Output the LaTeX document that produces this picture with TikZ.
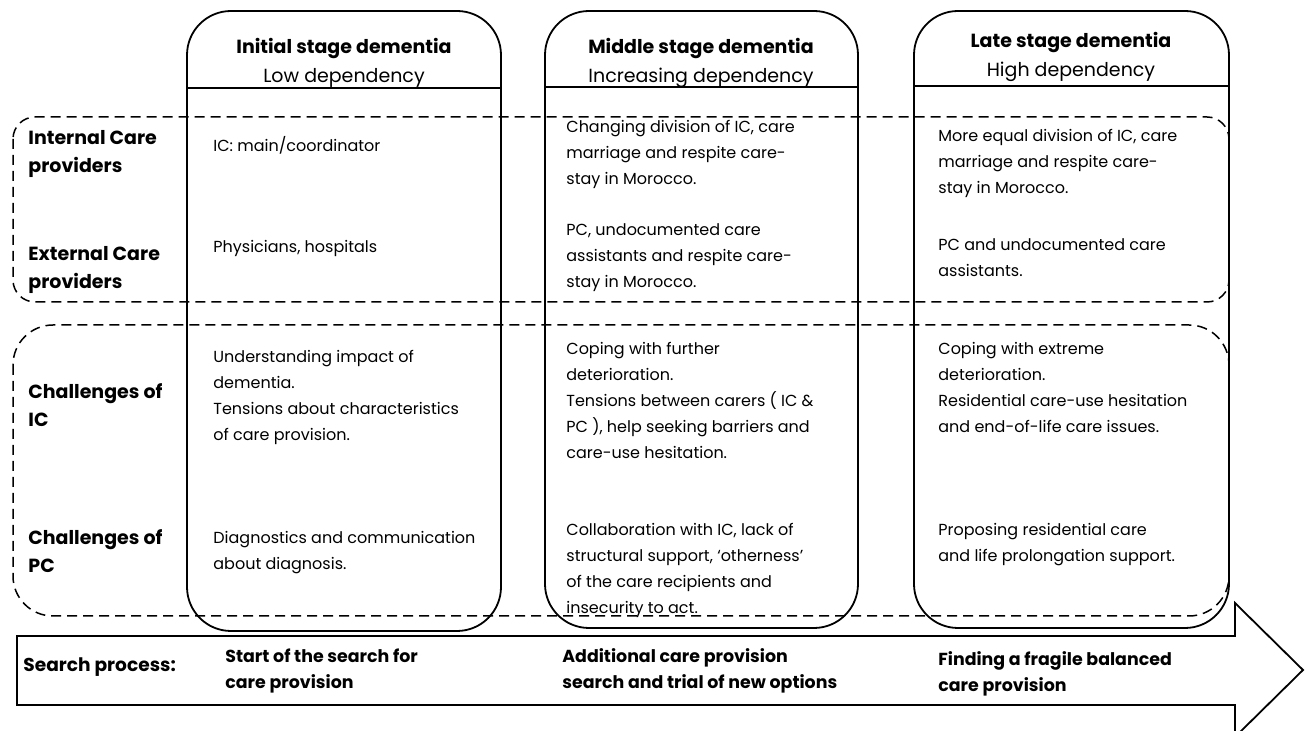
\documentclass[tikz,border=0pt]{standalone}
\usepackage{fontspec}
\setmainfont{Poppins}
\begin{document}
\begin{tikzpicture}[x={(0.5pt,0)},y={(0,-0.5pt)},
	stage/.style={line width=0.9pt,rounded corners=22pt},
	band/.style={line width=0.75pt,dash pattern=on 5pt off 3pt},
	head/.style={anchor=north,align=center,inner sep=0,font=\fontsize{9.5}{14.5}\selectfont},
	rowlabel/.style={anchor=north west,align=left,inner sep=0,font=\fontsize{9.5}{14}\selectfont\bfseries},
	cell/.style={anchor=north west,align=left,inner sep=0,font=\fontsize{8}{13}\selectfont},
	search/.style={anchor=north west,align=left,inner sep=0,font=\fontsize{8.7}{13}\selectfont\bfseries}]
	\useasboundingbox (0,0) rectangle (1308,731);

	% the three stages
	\draw[stage] (187,11) rectangle (501,631);
	\draw[stage] (545,11) rectangle (858,628);
	\draw[stage] (914,11) rectangle (1229,628);
	\draw[line width=0.9pt] (187,88) -- (501,88) (545,87) -- (858,87) (914,86) -- (1229,86);
	\node[head] (initial) at (344,38) {\bfseries Initial stage dementia\\Low dependency};
	\node[head] (middle) at (701,38) {\bfseries Middle stage dementia\\Increasing dependency};
	\node[head] (late) at (1071,32) {\bfseries Late stage dementia\\High dependency};

	% dashed bands for providers and challenges
	\draw[band,rounded corners=11pt] (13,117) rectangle (1229,302);
	\draw[band,rounded corners=20pt] (13,325) rectangle (1229,616);

	\node[rowlabel] (internal) at (28,130) {Internal Care\\providers};
	\node[rowlabel] (external) at (28,246) {External Care\\providers};
	\node[rowlabel] (chIC) at (28,383) {Challenges of\\IC};
	\node[rowlabel] (chPC) at (28,529) {Challenges of\\PC};

	\node[cell] (intA) at (213,136) {IC: main/coordinator};
	\node[cell] (extA) at (213,240) {Physicians, hospitals};
	\node[cell] (icA) at (213,350) {Understanding impact of\\dementia.\\Tensions about characteristics\\of care provision.};
	\node[cell] (pcA) at (213,531) {Diagnostics and communication\\about diagnosis.};

	\node[cell] (intB) at (566,120) {Changing division of IC, care\\marriage and respite care-\\stay in Morocco.};
	\node[cell] (extB) at (566,223) {PC, undocumented care\\assistants and respite care-\\stay in Morocco.};
	\node[cell] (icB) at (566,342) {Coping with further\\deterioration.\\Tensions between carers ( IC \&\\PC ), help seeking barriers and\\care-use hesitation.};
	\node[cell] (pcB) at (566,523) {Collaboration with IC, lack of\\structural support, ‘otherness’\\of the care recipients and\\insecurity to act.};

	\node[cell] (intC) at (938,129) {More equal division of IC, care\\marriage and respite care-\\stay in Morocco.};
	\node[cell] (extC) at (938,238) {PC and undocumented care\\assistants.};
	\node[cell] (icC) at (938,342) {Coping with extreme\\deterioration.\\Residential care-use hesitation\\and end-of-life care issues.};
	\node[cell] (pcC) at (938,523) {Proposing residential care\\and life prolongation support.};

	% search process arrow
	\draw[line width=0.9pt] (17,636) -- (1235,636) -- (1235,603) -- (1303,670)
		-- (1235,737) -- (1235,705) -- (17,705) -- cycle;
	\node[anchor=west,inner sep=0,font=\fontsize{9.3}{13}\selectfont\bfseries] (process) at (23,667) {Search process:};
	\node[search] (startA) at (225,648) {Start of the search for\\care provision};
	\node[search] (startB) at (562,648) {Additional care provision\\search and trial of new options};
	\node[search] (startC) at (938,651) {Finding a fragile balanced\\care provision};
\end{tikzpicture}
\end{document}
